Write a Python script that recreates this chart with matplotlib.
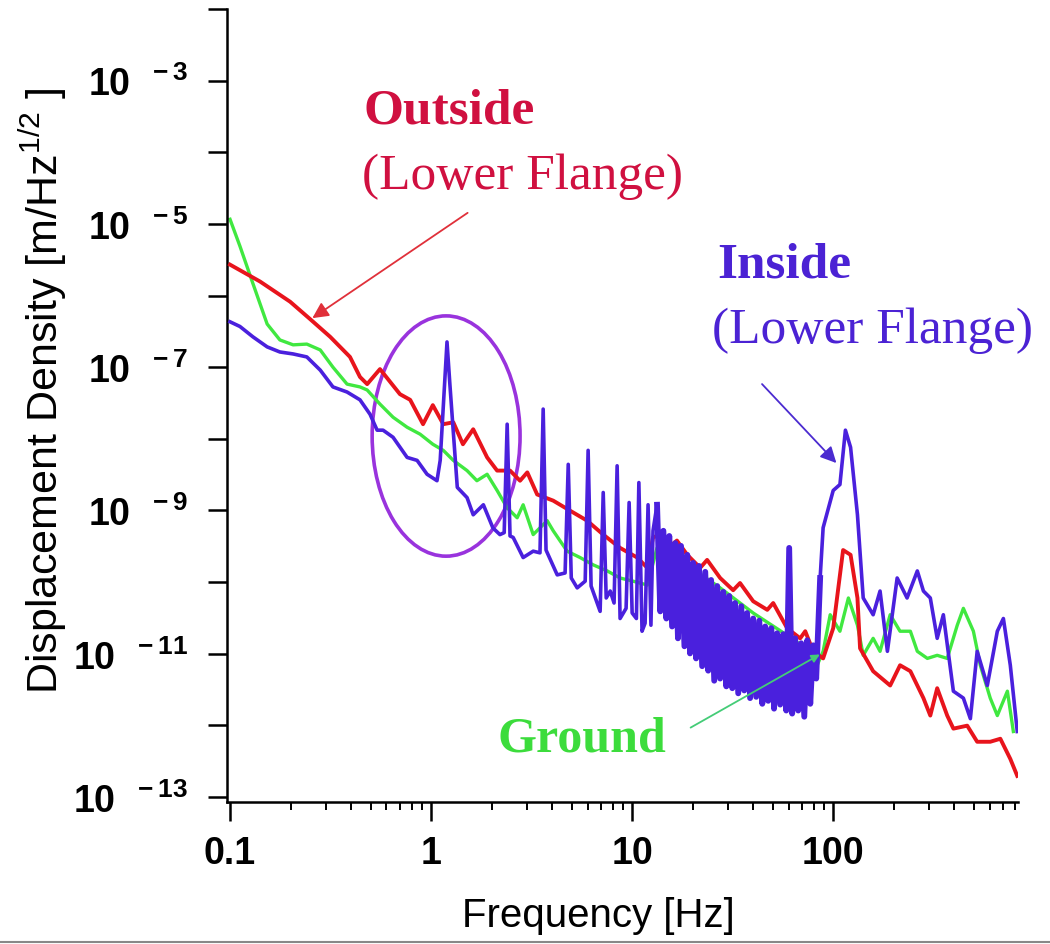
import matplotlib
matplotlib.use("Agg")
import matplotlib.pyplot as plt
from matplotlib.patches import Ellipse
from matplotlib.lines import Line2D
from matplotlib.ticker import LogLocator, NullLocator, NullFormatter

# outside sensor (lower flange), red trace
outside_freq = [0.1, 0.141, 0.199, 0.25, 0.315, 0.395, 0.443, 0.481, 0.557, 0.70,
                0.787, 0.912, 1.02, 1.15, 1.29, 1.44, 1.62, 1.90, 2.13, 2.47,
                2.77, 3.01, 3.37, 4.05, 4.92, 5.97, 7.18, 8.71, 10.6, 11.9,
                12.7, 13.8, 15.5, 16.7, 18.8, 21.8, 23.6, 27.4, 31.8, 34.4,
                40.0, 47.0, 50.3, 59.0, 68.5, 72.6, 79.5, 89.1, 100, 112,
                122, 132, 136, 158, 192, 215, 242, 281, 304, 329,
                369, 396, 464, 520, 604, 678, 760, 823]
outside_asd = [2.7e-6, 1.57e-6, 8.2e-7, 4.7e-7, 2.65e-7, 1.39e-7, 7.3e-8, 5.8e-8, 9.4e-8, 4.2e-8,
               3.5e-8, 1.6e-8, 2.95e-8, 1.6e-8, 1.7e-8, 8.4e-9, 1.36e-8, 5.5e-9, 3.6e-9, 3.6e-9,
               2.6e-9, 3.4e-9, 1.67e-9, 1.37e-9, 9.9e-10, 7.2e-10, 4.6e-10, 3.0e-10, 2.2e-10, 1.58e-10,
               4.2e-10, 4.6e-10, 3.2e-10, 3.8e-10, 2.4e-10, 1.58e-10, 2.04e-10, 1.14e-10, 7.7e-11, 9.7e-11,
               5.4e-11, 4.1e-11, 5.1e-11, 2.27e-11, 1.64e-11, 2.06e-11, 1.08e-11, 8.6e-12, 2.27e-11, 2.8e-10,
               2.4e-10, 6.0e-11, 1.19e-11, 5.7e-12, 3.6e-12, 6.9e-12, 5.7e-12, 2.4e-12, 1.37e-12, 3.3e-12,
               1.37e-12, 9.0e-13, 9.9e-13, 5.9e-13, 5.9e-13, 6.5e-13, 3.4e-13, 1.97e-13]

# ground sensor, green trace
ground_freq = [0.1, 0.112, 0.13, 0.153, 0.177, 0.206, 0.241, 0.281, 0.325, 0.382,
               0.443, 0.481, 0.557, 0.647, 0.76, 0.882, 1.02, 1.15, 1.29, 1.51,
               1.69, 1.90, 2.13, 2.39, 2.68, 2.87, 3.22, 3.78, 4.05, 4.75,
               5.51, 6.40, 7.52, 8.71, 10.1, 11.9, 13.3, 18.8, 27.4, 40.0,
               59.0, 79.5, 83.2, 89.1, 96.6, 108, 119, 132, 141, 158,
               171, 192, 215, 242, 262, 294, 329, 369, 414, 444,
               498, 539, 604, 655, 735, 787]
ground_asd = [1.16e-5, 4.9e-6, 1.47e-6, 4.0e-7, 2.4e-7, 2.05e-7, 2.1e-7, 1.74e-7, 1.0e-7, 5.8e-8,
              5.3e-8, 4.8e-8, 3.05e-8, 2.0e-8, 1.45e-8, 1.16e-8, 8.4e-9, 6.9e-9, 5.0e-9, 3.6e-9,
              2.6e-9, 3.2e-9, 1.9e-9, 1.09e-9, 7.9e-10, 1.2e-9, 4.6e-10, 7.2e-10, 5.2e-10, 2.7e-10,
              2.2e-10, 1.74e-10, 1.43e-10, 1.14e-10, 1.03e-10, 9.1e-11, 3.0e-10, 1.74e-10, 8.3e-11, 3.7e-11,
              1.81e-11, 1.01e-11, 6.9e-12, 1.08e-11, 3.5e-11, 2.06e-11, 6.0e-11, 2.5e-11, 9.5e-12, 1.64e-11,
              1.08e-11, 3.5e-11, 2.06e-11, 2.06e-11, 1.08e-11, 8.6e-12, 9.5e-12, 8.6e-12, 2.5e-11, 4.3e-11,
              2.06e-11, 6.9e-12, 2.4e-12, 1.37e-12, 3.0e-12, 8.2e-13]

# inside sensor (lower flange), blue trace
inside_freq = [0.1, 0.112, 0.13, 0.153, 0.177, 0.206, 0.241, 0.281, 0.325, 0.382,
               0.443, 0.497, 0.539, 0.577, 0.647, 0.76, 0.852, 0.955, 1.07, 1.11,
               1.20, 1.24, 1.35, 1.51, 1.62, 1.82, 2.03, 2.20, 2.31, 2.39,
               2.47, 2.56, 2.87, 3.22, 3.48, 3.61, 3.73, 4.24, 4.64, 4.81,
               4.98, 5.33, 5.84, 6.04, 6.25, 6.93, 7.18, 7.43, 7.78, 8.13,
               8.42, 8.71, 9.33, 9.66, 10.0, 10.5, 10.8, 11.2, 11.6, 12.0,
               12.4, 12.7, 13.3,
               # noisy band 14 - 80 Hz
               13.8, 14.3, 14.8, 15.3, 15.8, 16.4, 16.9, 17.5, 18.2, 18.8,
               19.4, 20.1, 20.8, 21.5, 22.3, 23.1, 23.9, 24.7, 25.6, 26.5,
               27.4, 28.4, 29.4, 30.4, 31.5, 32.5, 33.7, 34.9, 36.1, 37.3,
               38.6, 40.0, 41.4, 42.9, 44.4, 45.9, 47.5, 49.2, 50.8, 52.6,
               54.5, 56.4, 58.4, 60.4, 62.5, 64.7, 67.0, 69.3, 71.8, 74.3,
               76.9, 79.5, 82.3,
               86.1, 89.1, 100, 108, 115, 122, 132, 141, 158, 171,
               186, 208, 233, 262, 281, 304, 329, 353, 396, 444,
               481, 520, 584, 655, 702, 760, 823]
inside_asd = [4.3e-7, 3.7e-7, 2.65e-7, 1.92e-7, 1.63e-7, 1.53e-7, 1.39e-7, 9.1e-8, 5.3e-8, 4.5e-8,
              3.5e-8, 2.2e-8, 1.32e-8, 1.32e-8, 1.05e-8, 5.5e-9, 5.0e-9, 3.2e-9, 2.6e-9, 5.0e-9,
              2.25e-7, 5.8e-8, 2.1e-9, 1.51e-9, 8.7e-10, 1.2e-9, 5.7e-10, 4.6e-10, 4.9e-10, 1.6e-8,
              4.4e-10, 4.2e-10, 2.2e-10, 2.7e-10, 2.56e-10, 2.6e-8, 2.8e-10, 1.26e-10, 1.34e-10, 4.4e-9,
              1.14e-10, 8.3e-11, 1.03e-10, 6.9e-9, 8.8e-11, 3.9e-11, 1.78e-9, 6.0e-11, 7.5e-11, 5.1e-11,
              4.2e-9, 3.1e-11, 4.3e-11, 1.29e-9, 3.7e-11, 3.1e-11, 2.45e-9, 2.06e-11, 2.67e-11, 1.2e-9,
              2.5e-11, 5.2e-10, 1.2e-9,
              3.9e-11, 5.2e-10, 3.1e-11, 4.4e-10, 2.4e-11, 3.5e-10, 1.64e-11, 3.2e-10, 1.27e-11, 2.4e-10,
              1.01e-11, 1.85e-10, 8.6e-12, 1.68e-10, 6.7e-12, 1.39e-10, 5.8e-12, 1.07e-10, 4.2e-12, 8.8e-11,
              4.5e-12, 7.3e-11, 3.5e-12, 6.4e-11, 3.3e-12, 5.1e-11, 2.8e-12, 4.6e-11, 3.07e-12, 3.7e-11,
              2.4e-12, 3.1e-11, 2.5e-12, 2.9e-11, 2.0e-12, 2.4e-11, 2.2e-12, 2.27e-11, 1.71e-12, 1.93e-11,
              1.95e-12, 1.87e-11, 1.61e-12, 3.0e-10, 1.46e-12, 1.64e-11, 1.61e-12, 1.40e-11, 1.32e-12, 1.54e-11,
              2.0e-12, 1.31e-11, 4.5e-12,
              1.14e-10, 5.74e-10, 1.9e-9, 2.3e-9, 1.32e-8, 7.6e-9, 8.7e-10, 6.0e-11, 3.5e-11, 7.5e-11,
              1.08e-11, 1.14e-10, 6.0e-11, 1.43e-10, 7.5e-11, 6.0e-11, 1.64e-11, 3.5e-11, 3.0e-12, 2.4e-12,
              1.24e-12, 1.08e-11, 3.6e-12, 2.06e-11, 3.1e-11, 6.9e-12, 8.2e-13]

xtick_vals = [0.1, 1, 10, 100]
xtick_labels = ["0.1", "1", "10", "100"]
ytick_exps = list(range(-13, -1))

red = "#E8141C"
green = "#40E840"
blue = "#4A20DD"

serif = ["Liberation Serif", "DejaVu Serif"]
plt.rcParams["font.family"] = ["Liberation Sans", "DejaVu Sans"]
plt.rcParams["mathtext.fontset"] = "custom"
plt.rcParams["mathtext.rm"] = "Liberation Sans"
plt.rcParams["mathtext.bf"] = "Liberation Sans:bold"
plt.rcParams["mathtext.default"] = "regular"

fig = plt.figure(figsize=(10.5, 9.45), dpi=100)
ax = fig.add_axes([227 / 1050, 142 / 945, 791 / 1050, 793 / 945])

ax.plot(ground_freq, ground_asd, color=green, lw=2.4, zorder=2)
ax.plot(outside_freq, outside_asd, color=red, lw=2.8, zorder=3)
ax.plot(inside_freq, inside_asd, color=blue, lw=2.6, zorder=4)
# the 14-80 Hz part is one dense noisy band, draw that stretch heavier
ax.plot(inside_freq[62:117], inside_asd[62:117], color=blue, lw=4.2, zorder=4)

ax.set_xscale("log")
ax.set_yscale("log")
ax.set_xlim(0.0966, 830)
ax.set_ylim(10 ** -13.07, 1e-2)

ylabels = [r"$\mathbf{10^{\ \ %d}}$" % e if e % 2 else "" for e in ytick_exps]
ax.set_yticks([10.0 ** e for e in ytick_exps], ylabels)
ax.yaxis.set_minor_locator(NullLocator())
ax.set_xticks(xtick_vals, xtick_labels)
ax.xaxis.set_minor_locator(LogLocator(base=10, subs=range(2, 10)))
ax.xaxis.set_minor_formatter(NullFormatter())

ax.tick_params(axis="both", which="major", direction="out", length=14, width=1.8,
               labelsize=27)
ax.tick_params(axis="y", which="major", pad=14)
ax.tick_params(axis="x", which="major", pad=10)
ax.tick_params(axis="x", which="minor", direction="out", length=6, width=1.4)
for lab in ax.get_xticklabels():
    lab.set_fontweight("bold")

for s in ["top", "right"]:
    ax.spines[s].set_visible(False)
for s in ["left", "bottom"]:
    ax.spines[s].set_linewidth(1.8)

ax.set_xlabel("Frequency [Hz]", fontsize=29)
ax.xaxis.set_label_coords(0.47, -0.118)
ax.set_ylabel(r"Displacement Density [m/Hz$^{1/2}$ ]", fontsize=31)
ax.yaxis.set_label_coords(-0.2, 0.52)

# annotations
ax.text(0.459, 3.8e-4, "Outside", color="#D01040", fontsize=37, fontweight="bold",
        family=serif, ha="left", va="center")
ax.text(0.453, 4.7e-5, "(Lower Flange)", color="#D01040", fontsize=37,
        family=serif, ha="left", va="center")
ax.annotate("", xy=(0.25, 4.6e-7), xytext=(1.56, 1.5e-5), zorder=6,
            arrowprops=dict(arrowstyle="-|>", color="#E0303A", lw=1.3, mutation_scale=24))

ax.text(26.5, 2.7e-6, "Inside", color="#4B22D4", fontsize=37, fontweight="bold",
        family=serif, ha="left", va="center")
ax.text(25.0, 3.3e-7, "(Lower Flange)", color="#4B22D4", fontsize=37,
        family=serif, ha="left", va="center")
ax.annotate("", xy=(106, 4.3e-9), xytext=(43.3, 6.2e-8), zorder=6,
            arrowprops=dict(arrowstyle="-|>", color="#4B2BD0", lw=1.3, mutation_scale=24))

ax.text(2.13, 6.5e-13, "Ground", color="#3CDC3C", fontsize=36, fontweight="bold",
        family=serif, ha="left", va="center")
ax.annotate("", xy=(88.2, 1.02e-11), xytext=(19.0, 8.9e-13), zorder=6,
            arrowprops=dict(arrowstyle="-|>", color="#44CC77", lw=1.3, mutation_scale=12))

ax.add_patch(Ellipse((0.277, 0.4615), 0.187, 0.303, transform=ax.transAxes,
                     fill=False, ec="#9933DD", lw=2.6, zorder=1.5))

fig.add_artist(Line2D([0, 1], [2.5 / 945, 2.5 / 945], transform=fig.transFigure,
                      color="#888888", lw=1.5))

fig.savefig("out.png", dpi=100, facecolor="white")
